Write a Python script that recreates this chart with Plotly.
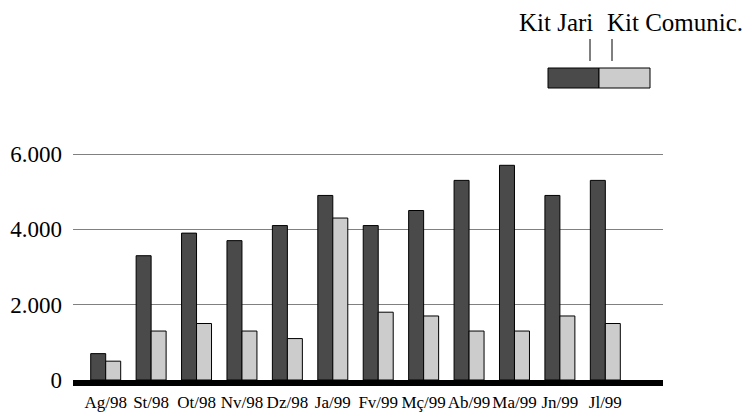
import plotly.graph_objects as go

# Monthly quantities for the two kits
months = ["Ag/98", "St/98", "Ot/98", "Nv/98", "Dz/98", "Ja/99",
          "Fv/99", "Mç/99", "Ab/99", "Ma/99", "Jn/99", "Jl/99"]
kit_jari = [700, 3300, 3900, 3700, 4100, 4900, 4100, 4500, 5300, 5700, 4900, 5300]
kit_comunic = [500, 1300, 1500, 1300, 1100, 4300, 1800, 1700, 1300, 1300, 1700, 1500]

y_ticks = [0, 2000, 4000, 6000]
y_tick_text = ["0", "2.000", "4.000", "6.000"]

series_names = ["Kit Jari", "Kit Comunic."]
dark = "#4a4a4a"
light = "#cccccc"
serif = "Liberation Serif, Times New Roman, serif"

fig = go.Figure()
fig.add_trace(go.Bar(x=months, y=kit_jari, name=series_names[0],
                     marker=dict(color=dark, line=dict(color="black", width=1))))
fig.add_trace(go.Bar(x=months, y=kit_comunic, name=series_names[1],
                     marker=dict(color=light, line=dict(color="black", width=1))))

W, H = 746, 412
L, R, T, B = 73, 83, 140, 32
plot_w = W - L - R
plot_h = H - T - B

fig.update_layout(
    width=W, height=H,
    margin=dict(l=L, r=R, t=T, b=B, autoexpand=False),
    paper_bgcolor="white", plot_bgcolor="white",
    barmode="group", bargap=0.34, bargroupgap=0,
    showlegend=False,
    font=dict(family=serif, color="black"),
)
fig.update_xaxes(
    range=[-0.72, 12.27], automargin=False,
    showgrid=False, showline=True, linecolor="black", linewidth=6,
    ticks="", tickangle=0, tickfont=dict(size=17), ticklabelstandoff=2,
)
fig.update_yaxes(
    range=[0, 6372], automargin=False,
    tickvals=y_ticks, ticktext=y_tick_text,
    showgrid=True, gridcolor="#808080", gridwidth=1,
    zeroline=False, showline=False, ticks="",
    tickfont=dict(size=23), ticklabelstandoff=10,
)

# Custom legend at the top right: labels, leader lines and swatches.
# Helpers turn figure pixels into paper (plot-area) fractions.
def px(x):
    return (x - L) / plot_w

def py(y):
    return (H - B - y) / plot_h

fig.add_annotation(x=px(517), y=py(22), xref="paper", yref="paper",
                   text=series_names[0], showarrow=False, xanchor="left", yanchor="middle",
                   font=dict(size=25, family=serif, color="black"))
fig.add_annotation(x=px(745), y=py(22), xref="paper", yref="paper",
                   text=series_names[1], showarrow=False, xanchor="right", yanchor="middle",
                   font=dict(size=25, family=serif, color="black"))
for lx in (590, 612):
    fig.add_shape(type="line", xref="paper", yref="paper",
                  x0=px(lx), x1=px(lx), y0=py(39), y1=py(61),
                  line=dict(color="black", width=1))
fig.add_shape(type="rect", xref="paper", yref="paper",
              x0=px(548), x1=px(599), y0=py(88), y1=py(68),
              fillcolor=dark, line=dict(color="black", width=1))
fig.add_shape(type="rect", xref="paper", yref="paper",
              x0=px(599), x1=px(650), y0=py(88), y1=py(68),
              fillcolor=light, line=dict(color="black", width=1))

fig.write_html("out.html")
